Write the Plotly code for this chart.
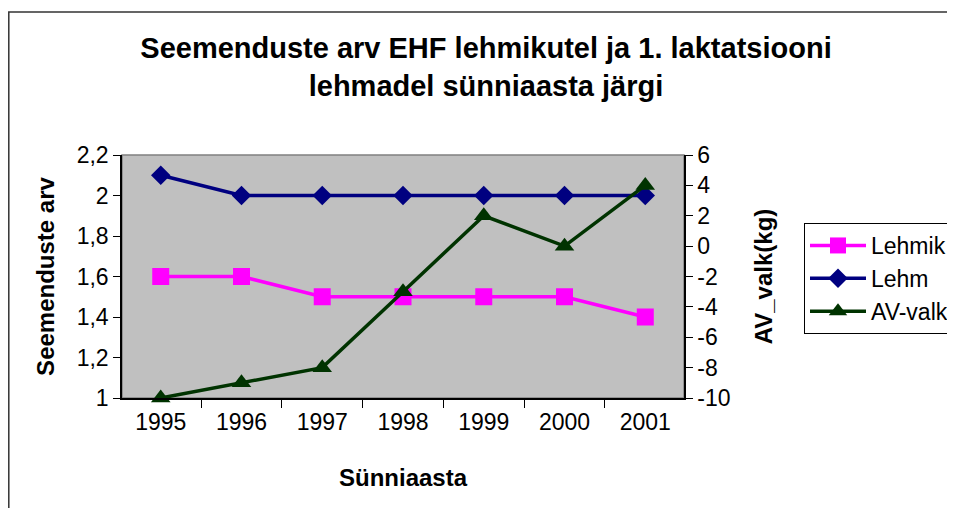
import plotly.graph_objects as go

years = ["1995", "1996", "1997", "1998", "1999", "2000", "2001"]
lehmik = [1.6, 1.6, 1.5, 1.5, 1.5, 1.5, 1.4]
lehm = [2.1, 2.0, 2.0, 2.0, 2.0, 2.0, 2.0]
av_valk = [-10, -9, -8, -3, 2, 0, 4]

y_tickvals = [1, 1.2, 1.4, 1.6, 1.8, 2, 2.2]
y_ticktext = ["1", "1,2", "1,4", "1,6", "1,8", "2", "2,2"]
y2_tickvals = [-10, -8, -6, -4, -2, 0, 2, 4, 6]
y2_ticktext = ["-10", "-8", "-6", "-4", "-2", "0", "2", "4", "6"]

# page body has an 8px margin; work in screen coordinates and shift
OFF = 8
W, H = 955, 508
PL, PR, PT, PB = 122, 684, 155, 398  # plot area in screen px
ML = PL - OFF
MT = PT - OFF
PW, PH = PR - PL, PB - PT
MR = W - ML - PW
MB = H - MT - PH

def px(x):
    return (x - PL) / PW

def py(y):
    return (PB - y) / PH

FONT = "Liberation Sans, Arial, sans-serif"

fig = go.Figure()
fig.add_trace(go.Scatter(
    x=years, y=lehmik, name="Lehmik", mode="lines+markers", legendgroup="a",
    line=dict(color="#FF00FF", width=3.5), cliponaxis=False,
    marker=dict(symbol="square", size=17, color="#FF00FF"),
))
fig.add_trace(go.Scatter(
    x=years, y=lehm, name="Lehm", mode="lines+markers", legendgroup="b",
    line=dict(color="#000080", width=3.5), cliponaxis=False,
    marker=dict(symbol="diamond", size=15, color="#000080"),
))
fig.add_trace(go.Scatter(
    x=years, y=av_valk, name="AV-valk", mode="lines+markers", yaxis="y2",
    legendgroup="c",
    line=dict(color="#003300", width=3.5), cliponaxis=False,
    marker=dict(symbol="triangle-up", size=17, color="#003300"),
))

fig.update_layout(
    width=W, height=H,
    margin=dict(l=ML, r=MR, t=MT, b=MB, autoexpand=False),
    paper_bgcolor="white",
    plot_bgcolor="#C0C0C0",
    font=dict(family=FONT, size=23, color="black"),
    title=dict(
        text="<b>Seemenduste arv EHF lehmikutel ja 1. laktatsiooni<br>lehmadel sünniaasta järgi</b>",
        font=dict(size=29, family=FONT, color="black"),
        x=(486 - OFF) / W, xref="container", xanchor="center",
        y=1 - 50 / H, yref="container", yanchor="top",
    ),
    xaxis=dict(
        type="category", tickson="boundaries", ticks="outside", ticklen=8,
        tickcolor="black", showline=True, linecolor="black", linewidth=1.5,
        showgrid=False, zeroline=False, ticklabelstandoff=3,
        title=dict(text="<b>Sünniaasta</b>", font=dict(size=24), standoff=35),
        tickfont=dict(size=23),
    ),
    yaxis=dict(
        range=[1, 2.2], tickvals=y_tickvals, ticktext=y_ticktext,
        ticks="outside", ticklen=7, tickcolor="black",
        showline=True, linecolor="black", linewidth=1.5,
        showgrid=False, zeroline=False,
        title=dict(text="<b>Seemenduste arv</b>", font=dict(size=24), standoff=15),
        tickfont=dict(size=23),
    ),
    yaxis2=dict(
        range=[-10, 6], tickvals=y2_tickvals, ticktext=y2_ticktext,
        overlaying="y", side="right",
        ticks="outside", ticklen=7, tickcolor="black",
        showline=True, linecolor="black", linewidth=1.5,
        showgrid=False, zeroline=False,
        title=dict(text="<b>AV_valk(kg)</b>", font=dict(size=24), standoff=26),
        tickfont=dict(size=23),
    ),
    legend=dict(
        x=px(804), y=py(223), xanchor="left", yanchor="top",
        bgcolor="white", bordercolor="black", borderwidth=1,
        font=dict(size=23), traceorder="grouped", tracegroupgap=0,
        itemwidth=56,
    ),
    showlegend=True,
    shapes=[
        dict(type="rect", xref="paper", yref="paper",
             x0=0, x1=1, y0=0, y1=1, line=dict(color="#808080", width=1.5),
             layer="below"),
        dict(type="rect", xref="paper", yref="paper",
             x0=px(OFF + 0.8), x1=px(990), y0=py(12), y1=py(540),
             line=dict(color="#333333", width=1.5)),
    ],
)

fig.write_html("out.html")
